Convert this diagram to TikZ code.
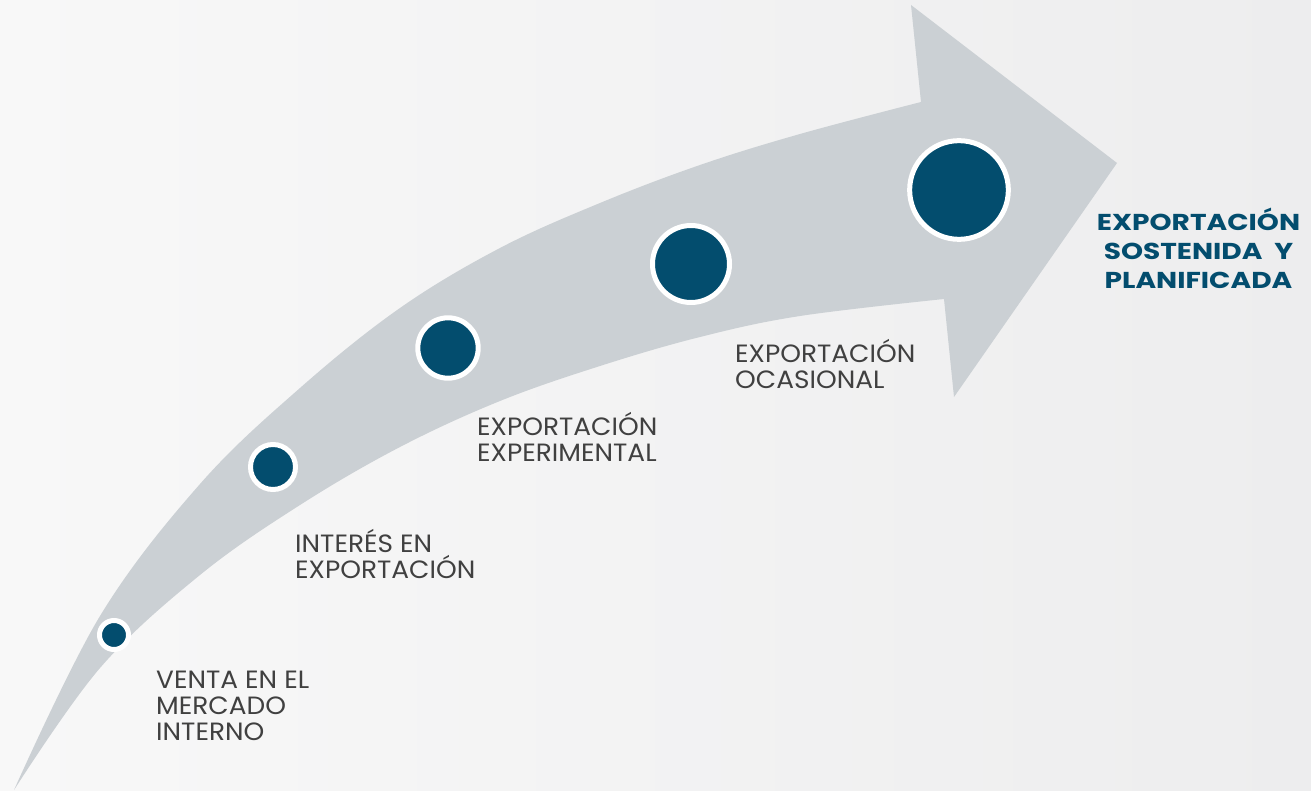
\documentclass[tikz,border=0pt]{standalone}
\usepackage{fontspec}
\setmainfont{Poppins}[FakeStretch=1.055]
\newfontfamily\goalfont{Poppins}[FakeStretch=1.22]
\definecolor{bgA}{RGB}{248,248,248}
\definecolor{bgB}{RGB}{237,237,238}
\definecolor{bandgray}{RGB}{203,208,212}
\definecolor{dotblue}{RGB}{3,77,110}
\definecolor{txtgray}{RGB}{64,64,64}
\begin{document}
\begin{tikzpicture}[x=1pt,y=-1pt,
  dot/.style={circle, fill=dotblue, draw=white, line width=5pt, inner sep=0pt},
  stage/.style={anchor=base west, align=left, inner sep=0pt, text=txtgray,
    font=\fontsize{25}{26}\selectfont},
  goal/.style={anchor=base, align=center, inner sep=0pt, text=dotblue,
    font=\goalfont\bfseries\fontsize{23}{28.7}\selectfont}]
\useasboundingbox (0,0) rectangle (1311,791);
\shade[left color=bgA, right color=bgB] (0,0) rectangle (1311,791);
% curved arrow
\fill[bandgray]
  plot[smooth, tension=0.6] coordinates {(14,790) (100,616) (200,484) (300,388) (400,308) (500,248) (600,203) (700,165) (800,134) (921,102)}
  -- (911,5) -- (1117,163) -- (954,397) -- (944,299)
  -- plot[smooth, tension=0.6] coordinates {(944,299) (800,316) (700,337) (600,366) (500,401) (400,447) (300,505) (200,575) (100,668) (14,790)}
  -- cycle;
% stage dots
\node[dot, minimum size=29pt] (s1) at (114,635) {};
\node[dot, minimum size=45pt] (s2) at (273,467) {};
\node[dot, minimum size=60.4pt] (s3) at (448,348) {};
\node[dot, minimum size=77pt] (s4) at (691,264) {};
\node[dot, minimum size=98.7pt] (s5) at (959,190) {};
% labels (anchored at the baseline of the last line)
\node[stage] (t1) at (156,740) {VENTA EN EL\\MERCADO\\INTERNO};
\node[stage] (t2) at (295,578) {INTERÉS EN\\EXPORTACIÓN};
\node[stage] (t3) at (477,461.7) {EXPORTACIÓN\\EXPERIMENTAL};
\node[stage] (t4) at (735,388) {EXPORTACIÓN\\OCASIONAL};
\node[goal] (t5) at (1198.5,288.3) {EXPORTACIÓN\\SOSTENIDA~~Y\\PLANIFICADA};
\end{tikzpicture}
\end{document}
